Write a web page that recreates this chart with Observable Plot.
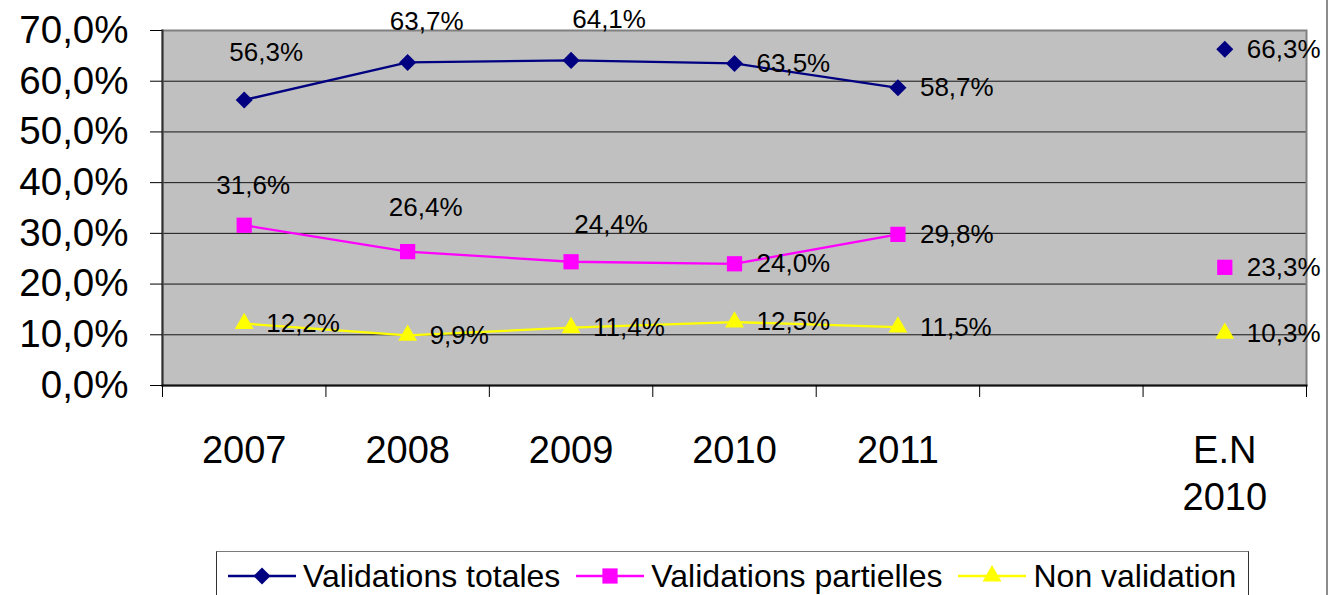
<!DOCTYPE html>
<html>
<head>
<meta charset="utf-8">
<script src="https://cdn.jsdelivr.net/npm/d3@7"></script>
<script src="https://cdn.jsdelivr.net/npm/@observablehq/plot@0.6"></script>
<style>
  html, body { margin: 0; padding: 0; background: #fff; overflow: hidden; }
  body { font-family: "Liberation Sans", Arial, sans-serif; }
  #wrap { position: relative; width: 1334px; height: 595px; }
  #chart svg { display: block; }
  #edge { position: absolute; left: 1326px; top: 0; width: 2px; height: 595px; background: #8c8c8c; }
  #legend {
    position: absolute; left: 216px; top: 551px; width: 1033px; height: 60px;
    box-sizing: border-box; border: 1.5px solid #333; border-top-color: #7a7a7a;
    display: flex; align-items: flex-start; padding: 8px 0 0 11px; gap: 16px;
    font-size: 32px; line-height: 32px; color: #000;
  }
  .item { display: flex; align-items: center; gap: 7px; white-space: nowrap; }
  .item svg { display: block; }
</style>
</head>
<body>
<div id="wrap">
  <div id="chart"></div>
  <div id="legend"></div>
  <div id="edge"></div>
</div>
<script>
// ---- data ----
const categories = ["2007", "2008", "2009", "2010", "2011", "", "E.N\n2010"];
const seriesNames = ["Validations totales", "Validations partielles", "Non validation"];
const validationsTotales    = [56.3, 63.7, 64.1, 63.5, 58.7, null, 66.3];
const validationsPartielles = [31.6, 26.4, 24.4, 24.0, 29.8, null, 23.3];
const nonValidation         = [12.2,  9.9, 11.4, 12.5, 11.5, null, 10.3];
const yTicks = [0, 10, 20, 30, 40, 50, 60, 70];

// ---- styles ----
const seriesValues = [validationsTotales, validationsPartielles, nonValidation];
const seriesColors = ["#000080", "#FF00FF", "#FFFF00"];
const seriesSymbols = ["diamond2", "square", "triangle"];
const seriesR = [7.7, 8.6, 7.0];

// label placements (dx, dy, anchor) per point
const R = [22, 0, "start"];
const labelPlacement = [
  [[22, -47, "middle"], [19, -41, "middle"], [38, -41, "middle"], R, R, null, R],
  [[9, -40, "middle"], [18, -44, "middle"], [40, -37, "middle"], R, R, null, R],
  [R, R, R, R, R, null, R]
];

const fmt = v => v.toFixed(1).replace(".", ",") + "%";
const FONT = '"Liberation Sans", Arial, sans-serif';

const rows = seriesNames.map((name, s) =>
  seriesValues[s].map((v, i) => ({ series: name, s, i, x: i + 0.5, v }))
);

const H = 546;
const marks = [
  Plot.frame({ fill: "#C0C0C0", stroke: null }),
  Plot.gridY(yTicks.slice(1, -1), { stroke: "#000", strokeOpacity: 0.9 }),
  Plot.frame({ stroke: "#808080", strokeWidth: 2 }),
  Plot.frame({ anchor: "left", stroke: "#333", strokeWidth: 2 }),
  Plot.frame({ anchor: "bottom", stroke: "#111", strokeWidth: 2 }),
  Plot.axisY({ ticks: yTicks, tickSize: 12, tickPadding: 22, tickFormat: fmt, fontSize: 38.5, stroke: "#000", label: null }),
  Plot.axisX({ ticks: d3.range(categories.length + 1), tickSize: 12, tickFormat: () => "", stroke: "#000", label: null }),
  Plot.axisX({
    ticks: categories.map((c, i) => i + 0.5), tickSize: 0, tickPadding: 43,
    tickFormat: t => categories[Math.floor(t)], fontSize: 38, lineHeight: 1.26,
    lineAnchor: "top", label: null
  })
];

rows.forEach((r, s) => {
  marks.push(Plot.line(r, { x: "x", y: "v", stroke: seriesColors[s], strokeWidth: 2.3 }));
});
rows.forEach((r, s) => {
  marks.push(Plot.dot(r.filter(d => d.v != null), {
    x: "x", y: "v", symbol: seriesSymbols[s], r: seriesR[s], fill: seriesColors[s], stroke: null
  }));
});
rows.forEach((r, s) => {
  r.forEach(d => {
    if (d.v == null) return;
    const [dx, dy, anchor] = labelPlacement[s][d.i];
    marks.push(Plot.text([d], {
      x: "x", y: "v", text: q => fmt(q.v), dx, dy, textAnchor: anchor,
      fontSize: 26, fill: "#000"
    }));
  });
});

const chart = Plot.plot({
  width: 1334, height: H,
  marginLeft: 162, marginRight: 28, marginTop: 30, marginBottom: H - 385,
  x: { domain: [0, categories.length], label: null },
  y: { domain: [0, 70], label: null },
  style: { fontFamily: FONT, background: "transparent", color: "#000", overflow: "visible" },
  marks
});
document.getElementById("chart").appendChild(chart);

// ---- legend ----
const legend = document.getElementById("legend");
seriesNames.forEach((name, s) => {
  const item = document.createElement("div");
  item.className = "item";
  const sw = d3.create("svg").attr("width", 68).attr("height", 24);
  sw.append("line").attr("x1", 0).attr("x2", 68).attr("y1", 12).attr("y2", 12)
    .attr("stroke", seriesColors[s]).attr("stroke-width", 2.5);
  const sym = { diamond2: d3.symbolDiamond2, square: d3.symbolSquare, triangle: d3.symbolTriangle }[seriesSymbols[s]];
  sw.append("path").attr("transform", "translate(34,12)")
    .attr("d", d3.symbol(sym, Math.PI * seriesR[s] * seriesR[s])())
    .attr("fill", seriesColors[s]);
  item.appendChild(sw.node());
  const t = document.createElement("span");
  t.textContent = name;
  item.appendChild(t);
  legend.appendChild(item);
});
</script>
</body>
</html>
